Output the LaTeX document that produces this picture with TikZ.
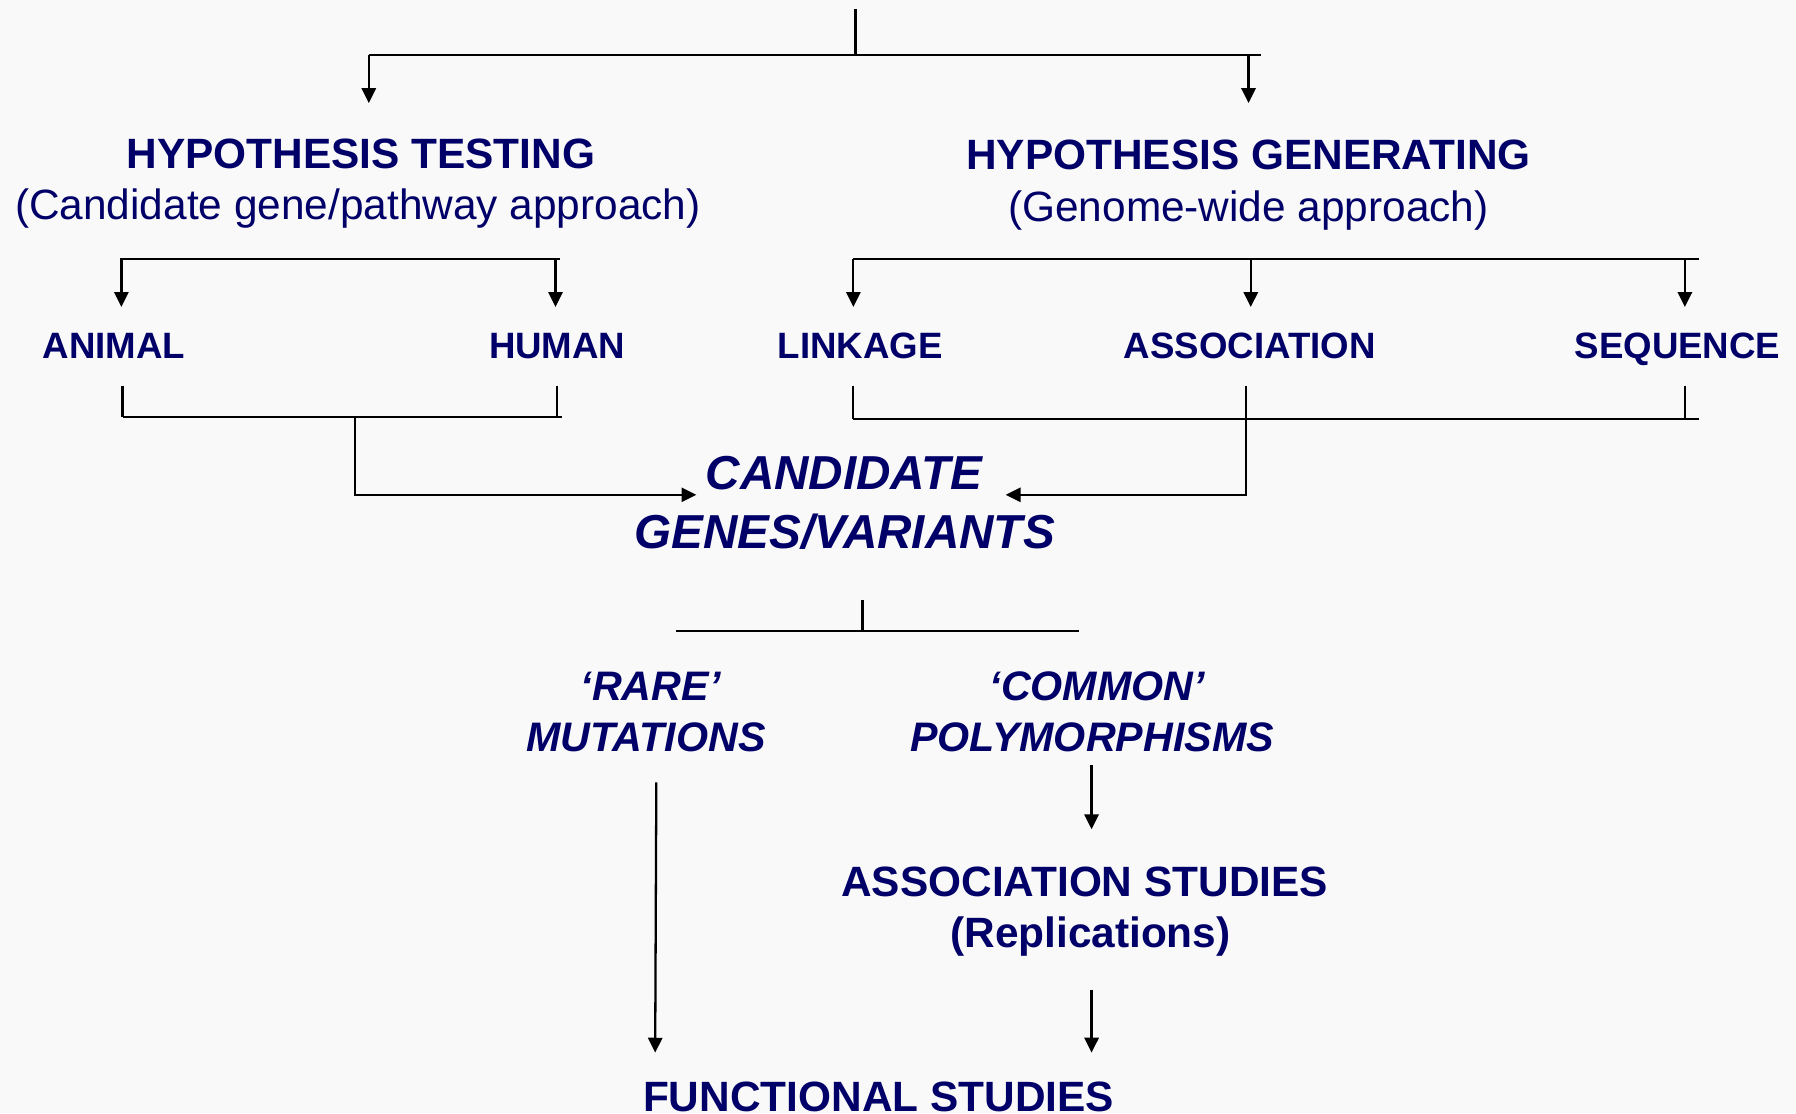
\documentclass[tikz,border=0pt]{standalone}
\usepackage{fontspec}
\setmainfont{Liberation Sans}
\usetikzlibrary{arrows.meta}
\definecolor{navy}{RGB}{0,0,104}
\definecolor{bgc}{RGB}{249,249,249}
\begin{document}
\begin{tikzpicture}[x=0.5pt,y=-0.5pt,
  txt/.style={text=navy, inner sep=0pt, anchor=base},
  head/.style={txt, font=\fontsize{18.5}{22}\selectfont\bfseries},
  sub/.style={txt, font=\fontsize{18.5}{22}\selectfont},
  lab/.style={txt, font=\fontsize{16}{19}\selectfont\bfseries},
  cand/.style={txt, font=\fontsize{20.8}{24}\selectfont\bfseries\itshape},
  kind/.style={txt, font=\fontsize{18}{22}\selectfont\bfseries\itshape},
  ln/.style={draw=black, line width=1pt},
  arr/.style={ln, -{Triangle[length=6.5pt,width=6.2pt]}}
]
\fill[bgc] (0,0) rectangle (1568,972);
\useasboundingbox (0,0) rectangle (1568,972);

% texts
\node[head] (ht1) at (315,147) {HYPOTHESIS TESTING};
\node[sub]  (ht2) at (312.5,192) {(Candidate gene/pathway approach)};
\node[head] (hg1) at (1090,148) {HYPOTHESIS GENERATING};
\node[sub]  (hg2) at (1090,193) {(Genome-wide approach)};

\node[lab] (animal) at (99.5,313) {ANIMAL};
\node[lab] (human)  at (486.5,313) {HUMAN};
\node[lab] (link)   at (751,313) {LINKAGE};
\node[lab] (assoc)  at (1091,313) {ASSOCIATION};
\node[lab] (seq)    at (1464.5,313) {SEQUENCE};

\node[cand] (cg1) at (737,427) {CANDIDATE};
\node[cand] (cg2) at (737.5,479) {GENES/VARIANTS};

\node[kind] (rare1) at (568,612) {‘RARE’};
\node[kind] (rare2) at (564,656) {MUTATIONS};
\node[kind] (com1)  at (958,612) {‘COMMON’};
\node[kind] (com2)  at (953.5,656) {POLYMORPHISMS};

\node[head] (as1) at (947,783) {ASSOCIATION STUDIES};
\node[head] (as2) at (952,827) {(Replications)};

\node[head] (func) at (767,970) {FUNCTIONAL STUDIES};

% top split
\coordinate (r0) at (747,8);
\coordinate (r1) at (747,48);
\coordinate (bL) at (322,48);
\coordinate (bR) at (1101,48);
\coordinate (tHT) at (322,90);
\coordinate (tHG) at (1090,90);
\draw[ln] (r0) -- (r1);
\draw[ln] (bL) -- (bR);
\draw[arr] (bL) -- (tHT);
\draw[arr] (tHG |- bL) -- (tHG);

% hypothesis testing split
\coordinate (lb1) at (105,226);
\coordinate (lb2) at (489,226);
\coordinate (tAN) at (106,268);
\coordinate (tHU) at (485,268);
\draw[ln] (lb1) -- (lb2);
\draw[arr] (tAN |- lb1) -- (tAN);
\draw[arr] (tHU |- lb1) -- (tHU);

% hypothesis generating split
\coordinate (rb1) at (745,226);
\coordinate (rb2) at (1483,226);
\coordinate (tLI) at (745,268);
\coordinate (tAS) at (1092,268);
\coordinate (tSE) at (1471,268);
\draw[ln] (rb1) -- (rb2);
\draw[arr] (tLI |- rb1) -- (tLI);
\draw[arr] (tAS |- rb1) -- (tAS);
\draw[arr] (tSE |- rb1) -- (tSE);

% left join
\coordinate (sAN) at (107,337);
\coordinate (sHU) at (486,337);
\coordinate (jl1) at (107,364);
\coordinate (jl2) at (491,364);
\coordinate (jl3) at (310,364);
\coordinate (cL) at (608,432);
\draw[ln] (sAN) -- (jl1);
\draw[ln] (sHU) -- (sHU |- jl1);
\draw[ln] (jl1) -- (jl2);
\draw[arr] (jl3) |- (cL);

% right join
\coordinate (sLI) at (745,337);
\coordinate (sAS) at (1088,337);
\coordinate (sSE) at (1471,337);
\coordinate (jr1) at (745,366);
\coordinate (jr2) at (1483,366);
\coordinate (cR) at (878,432);
\draw[ln] (sLI) -- (jr1);
\draw[ln] (sSE) -- (sSE |- jr1);
\draw[ln] (jr1) -- (jr2);
\draw[arr] (sAS) |- (cR);

% candidate split
\coordinate (m0) at (753,524);
\coordinate (m1) at (753,551);
\coordinate (mL) at (590,551);
\coordinate (mR) at (942,551);
\draw[ln] (m0) -- (m1);
\draw[ln] (mL) -- (mR);

% lower arrows
\coordinate (p0) at (953,668);
\coordinate (p1) at (953,724);
\draw[arr] (p0) -- (p1);
\coordinate (q0) at (953,864);
\coordinate (q1) at (953,919);
\draw[arr] (q0) -- (q1);
\coordinate (u0) at (573,683);
\coordinate (u1) at (572,919);
\draw[arr] (u0) -- (u1);
\end{tikzpicture}
\end{document}
